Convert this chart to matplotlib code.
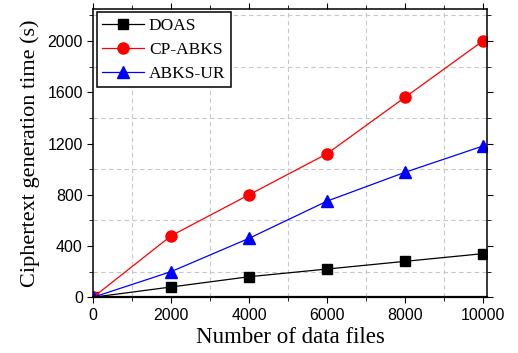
import matplotlib.pyplot as plt
from matplotlib.ticker import MultipleLocator

files = [0, 2000, 4000, 6000, 8000, 10000]
doas = [0, 80, 160, 220, 280, 340]
cp_abks = [0, 480, 800, 1120, 1560, 2000]
abks_ur = [0, 200, 460, 750, 975, 1180]

serif = "Liberation Serif"
sans = "Liberation Sans"

fig = plt.figure(figsize=(5.18, 3.53), dpi=100)
ax = fig.add_axes([0.18, 0.158, 0.7596, 0.8165])

ax.plot(files, doas, color="black", marker="s", markersize=7, linewidth=0.9, label="DOAS")
ax.plot(files, cp_abks, color="red", marker="o", markersize=8, linewidth=0.9, label="CP-ABKS")
ax.plot(files, abks_ur, color="blue", marker="^", markersize=8, linewidth=0.9, label="ABKS-UR")

ax.set_xlim(0, 10100)
ax.set_ylim(0, 2250)
ax.xaxis.set_major_locator(MultipleLocator(2000))
ax.xaxis.set_minor_locator(MultipleLocator(1000))
ax.yaxis.set_major_locator(MultipleLocator(400))
ax.yaxis.set_minor_locator(MultipleLocator(200))
ax.grid(True, which="minor", linestyle=(0, (4, 3)), color="#c8c8c8", linewidth=0.8)
ax.tick_params(which="both", direction="out", top=True, right=True,
               labeltop=False, labelright=False)
ax.tick_params(which="major", length=4)
ax.tick_params(which="minor", length=3)
for lab in ax.get_xticklabels() + ax.get_yticklabels():
    lab.set_fontfamily(sans)
    lab.set_fontsize(11.5)
ax.spines["bottom"].set_linewidth(1.6)
for s in ["left", "top", "right"]:
    ax.spines[s].set_linewidth(1.1)

ax.set_xlabel("Number of data files", fontfamily=serif, fontsize=16.5, labelpad=3)
ax.set_ylabel("Ciphertext generation time (s)", fontfamily=serif, fontsize=16, labelpad=5)

leg = ax.legend(loc="upper left", prop={"family": serif, "size": 12.5},
                fancybox=False, edgecolor="black", framealpha=1,
                borderaxespad=0.2, handlelength=2.4, labelspacing=0.45,
                borderpad=0.3, handletextpad=0.3)
leg.get_frame().set_linewidth(1.1)

fig.savefig("out.png", dpi=100)
